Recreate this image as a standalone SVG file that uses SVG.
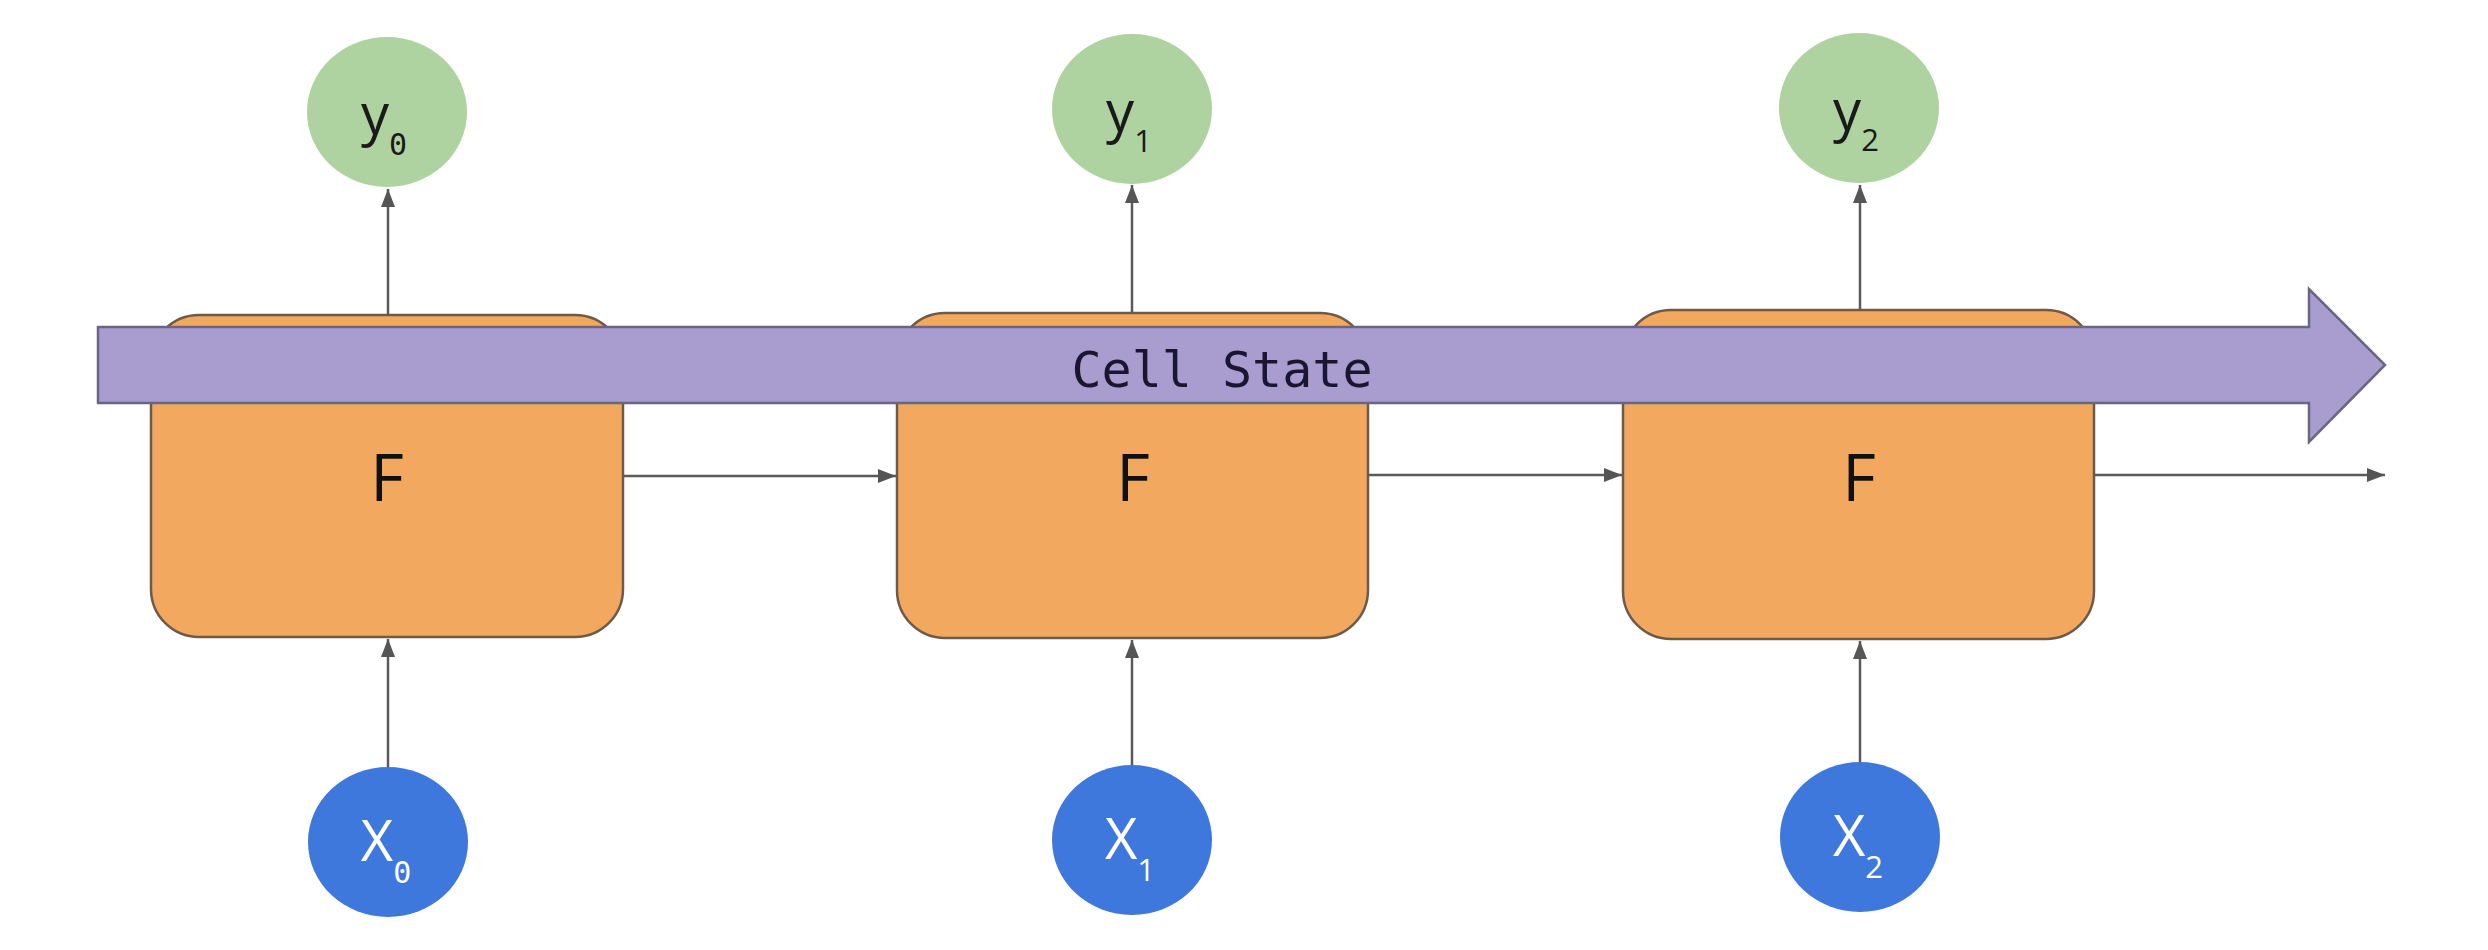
<svg xmlns="http://www.w3.org/2000/svg" width="2488" height="950" viewBox="0 0 2488 950">
<style>
.box{fill:#F3A85F;stroke:#6E5A48;stroke-width:2.5}
.out{fill:#AED3A0}
.in{fill:#3F78DD}
.conn{stroke:#5A5A5A;stroke-width:2.5;fill:none}
.lbl{font-family:"Open Sans","Liberation Sans",sans-serif;font-size:56px}
.sub{font-family:"Open Sans","Liberation Sans",sans-serif;font-size:31px}
.subz{font-family:"DejaVu Sans Mono","Liberation Mono",monospace;font-size:30px}
.f{font-family:"Open Sans","Liberation Sans",sans-serif;font-size:65px;fill:#111;text-anchor:middle}
.cs{font-family:"DejaVu Sans Mono","Liberation Mono",monospace;font-size:50px;fill:#1a1530;text-anchor:middle}
</style>
<defs>
<marker id="ah" markerWidth="18" markerHeight="14" refX="18" refY="7" orient="auto" markerUnits="userSpaceOnUse">
<path d="M0,0 L18,7 L0,14 z" fill="#555"/>
</marker>
</defs>
<rect width="2488" height="950" fill="#fff"/>
<g id="box0"><rect class="box" x="151" y="315" width="472" height="322" rx="48"/><text class="f" x="387" y="501">F</text></g>
<g id="box1"><rect class="box" x="897" y="313" width="471" height="325" rx="48"/><text class="f" x="1133" y="501">F</text></g>
<g id="box2"><rect class="box" x="1623" y="310" width="471" height="329" rx="48"/><text class="f" x="1859" y="501">F</text></g>
<g id="cellstate">
<path d="M98,327 L2309,327 L2309,289 L2385,365 L2309,442 L2309,403 L98,403 Z" fill="#A99DCF" stroke="#6A6584" stroke-width="2.5"/>
<text class="cs" x="1222" y="387">Cell State</text>
</g>
<g id="connectors">
<line class="conn" x1="388" y1="315" x2="388" y2="189" marker-end="url(#ah)"/>
<line class="conn" x1="1132" y1="313" x2="1132" y2="185" marker-end="url(#ah)"/>
<line class="conn" x1="1860" y1="310" x2="1860" y2="185" marker-end="url(#ah)"/>
<line class="conn" x1="388" y1="767" x2="388" y2="639" marker-end="url(#ah)"/>
<line class="conn" x1="1132" y1="765" x2="1132" y2="640" marker-end="url(#ah)"/>
<line class="conn" x1="1860" y1="762" x2="1860" y2="641" marker-end="url(#ah)"/>
<line class="conn" x1="623" y1="476" x2="896" y2="476" marker-end="url(#ah)"/>
<line class="conn" x1="1368" y1="475" x2="1622" y2="475" marker-end="url(#ah)"/>
<line class="conn" x1="2094" y1="475" x2="2385" y2="475" marker-end="url(#ah)"/>
</g>
<g id="y0"><ellipse class="out" cx="387" cy="112" rx="80" ry="75"/><text x="384" y="134" text-anchor="middle" fill="#1a1a1a"><tspan class="lbl">y</tspan><tspan class="subz" dy="21">0</tspan></text></g>
<g id="y1"><ellipse class="out" cx="1132" cy="109" rx="80" ry="75"/><text x="1129" y="131" text-anchor="middle" fill="#1a1a1a"><tspan class="lbl">y</tspan><tspan class="sub" dy="21">1</tspan></text></g>
<g id="y2"><ellipse class="out" cx="1859" cy="108" rx="80" ry="75"/><text x="1856" y="130" text-anchor="middle" fill="#1a1a1a"><tspan class="lbl">y</tspan><tspan class="sub" dy="21">2</tspan></text></g>
<g id="x0"><ellipse class="in" cx="388" cy="842" rx="80" ry="75"/><text x="386" y="861" text-anchor="middle" fill="#fff"><tspan class="lbl" font-size="48">X</tspan><tspan class="subz" dy="22">0</tspan></text></g>
<g id="x1"><ellipse class="in" cx="1132" cy="840" rx="80" ry="75"/><text x="1130" y="859" text-anchor="middle" fill="#fff"><tspan class="lbl" font-size="48">X</tspan><tspan class="sub" dy="22">1</tspan></text></g>
<g id="x2"><ellipse class="in" cx="1860" cy="837" rx="80" ry="75"/><text x="1858" y="856" text-anchor="middle" fill="#fff"><tspan class="lbl" font-size="48">X</tspan><tspan class="sub" dy="22">2</tspan></text></g>
</svg>
